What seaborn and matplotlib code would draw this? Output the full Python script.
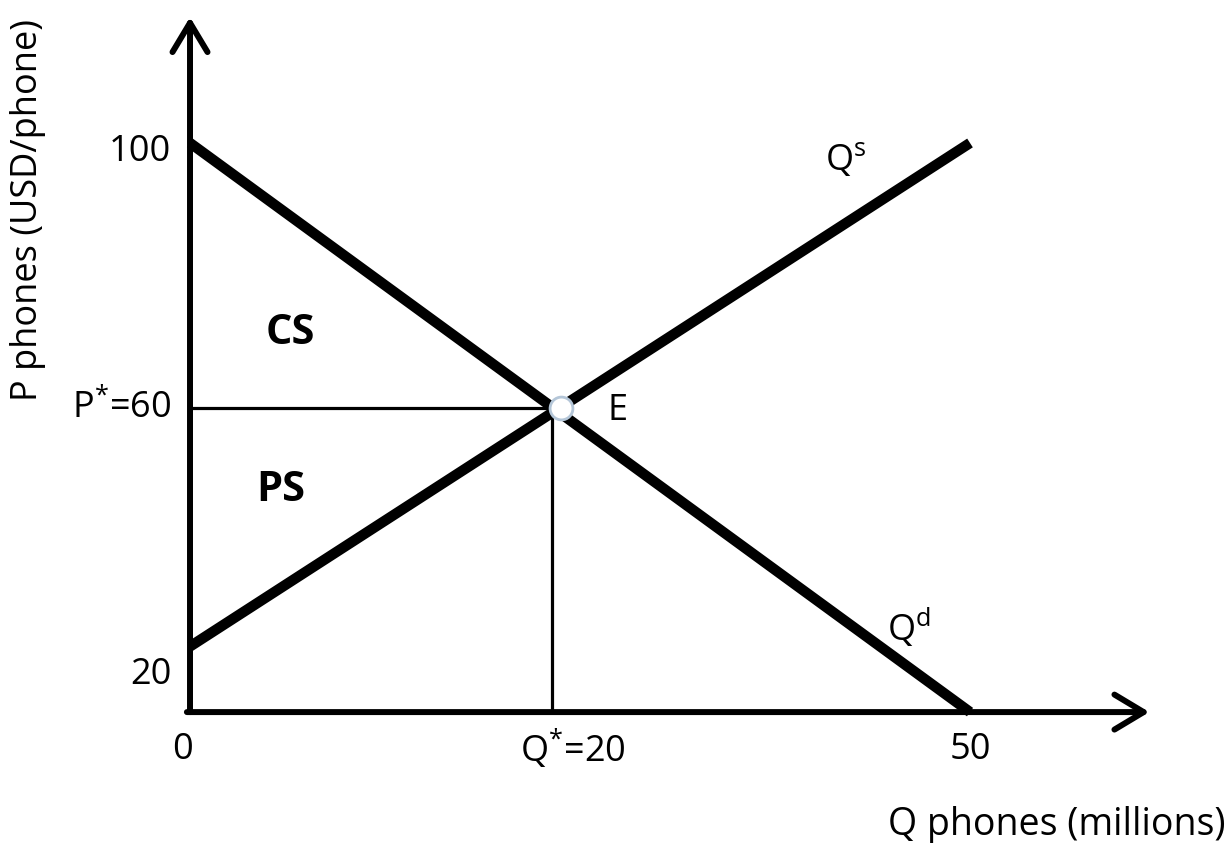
import matplotlib
matplotlib.use("Agg")
import matplotlib.pyplot as plt
import seaborn as sns
import pandas as pd

# curves as drawn in the sketch (Q in millions, P in USD/phone)
demand_q = [0, 50]
demand_p = [100, 14.1]
supply_q = [0, 50]
supply_p = [24, 100]

eq_q = 23.8
eq_p = 60

axis_p = 14.1      # where the Q axis sits on the P scale
q_arrow_end = 61.5
p_arrow_end = 119

y_labels = ["100", "P$^{*}$=60", "20"]
y_label_vals = [98.6, 60, 19.7]
x_labels = ["0", "Q$^{*}$=20", "50"]
x_label_vals = [-0.45, 24.55, 50]


def main():
    sns.set_theme(style="white")
    plt.rcParams["font.family"] = ["Open Sans", "DejaVu Sans"]
    plt.rcParams["mathtext.default"] = "regular"
    plt.rcParams["text.color"] = "black"

    fig = plt.figure(figsize=(12.31, 8.43), dpi=100)
    ax = fig.add_axes([0, 0, 1, 1])
    ax.set_xlim(-12.18, 66.73)
    ax.set_ylim(-5.66, 121.58)
    ax.axis("off")

    df = pd.concat([
        pd.DataFrame({"Q": demand_q, "P": demand_p, "curve": "Qd"}),
        pd.DataFrame({"Q": supply_q, "P": supply_p, "curve": "Qs"}),
    ])
    sns.lineplot(data=df, x="Q", y="P", units="curve", estimator=None,
                 color="black", lw=7.5, legend=False, ax=ax,
                 solid_capstyle="butt", zorder=3)

    # axes with open arrow heads
    arrow = dict(arrowstyle="->, head_length=1.0, head_width=0.6",
                 lw=4.3, color="black", mutation_scale=21, shrinkA=0, shrinkB=0)
    ax.annotate("", xy=(0, p_arrow_end), xytext=(0, axis_p), arrowprops=arrow)
    ax.annotate("", xy=(q_arrow_end, axis_p), xytext=(-0.2, axis_p), arrowprops=arrow)

    # equilibrium guide lines
    ax.plot([0, eq_q], [eq_p, eq_p], color="black", lw=2.3, zorder=2)
    ax.plot([eq_q - 0.6, eq_q - 0.6], [axis_p, eq_p], color="black", lw=2.3, zorder=2)

    sns.scatterplot(x=[eq_q], y=[eq_p], s=270, color="white",
                    edgecolor="#b4c6d8", linewidth=2, zorder=5, ax=ax)

    fs = 26
    for lab, v in zip(y_labels, y_label_vals):
        ax.text(-1.2, v, lab, ha="right", va="center", fontsize=fs)
    for lab, v in zip(x_labels, x_label_vals):
        ax.text(v, 8.4, lab, ha="center", va="center", fontsize=fs)

    ax.text(6.4, 71.3, "CS", ha="center", va="center", fontsize=30, fontweight="bold")
    ax.text(5.8, 47.6, "PS", ha="center", va="center", fontsize=30, fontweight="bold")
    ax.text(27.4, 59.6, "E", ha="center", va="center", fontsize=fs)
    ax.text(40.7, 97.4, "Q$^{s}$", ha="left", va="center", fontsize=fs)
    ax.text(44.7, 26.8, "Q$^{d}$", ha="left", va="center", fontsize=fs)

    ax.text(66.4, -2.9, "Q phones (millions)", ha="right", va="center", fontsize=27)
    ax.text(-10.4, 89.9, "P phones (USD/phone)", ha="center", va="center",
            rotation=90, fontsize=fs)

    fig.savefig("out.png", dpi=100)
    plt.close(fig)


if __name__ == "__main__":
    main()
